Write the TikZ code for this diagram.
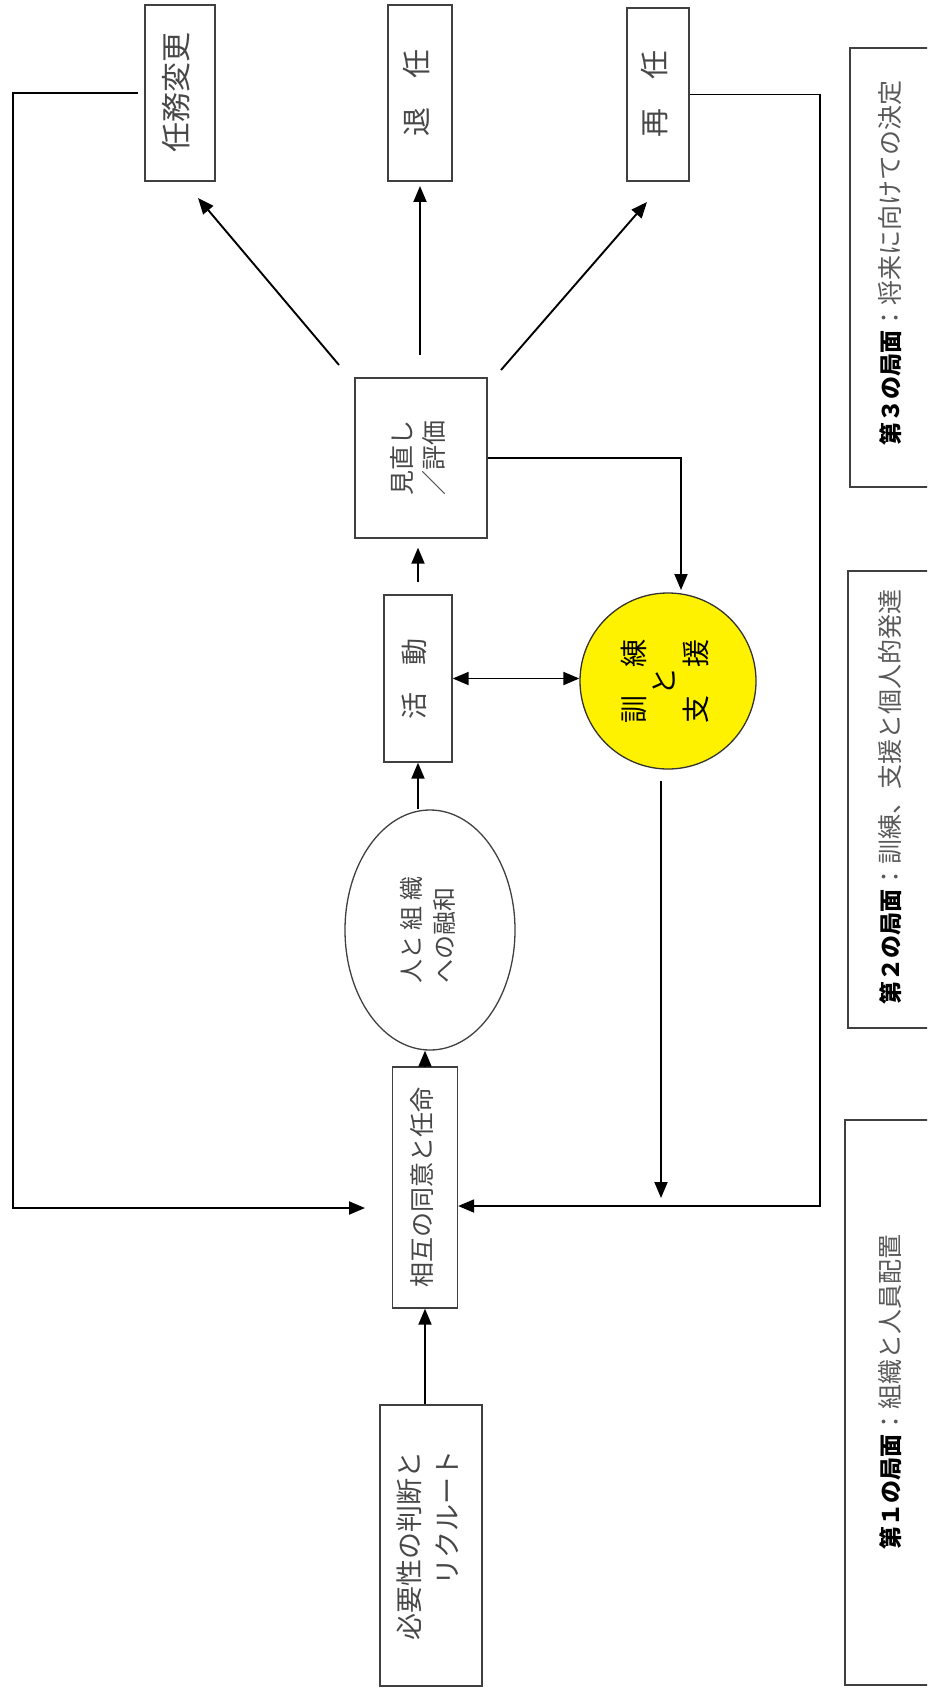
\documentclass[tikz,border=0pt]{standalone}
\usepackage{fontspec}
\usepackage{graphicx}
\usetikzlibrary{arrows.meta,calc,shapes.geometric}
\newfontfamily\jp{Noto Sans CJK JP}
\newcommand{\rtext}[2][c]{\rotatebox{90}{\begin{tabular}{@{}#1@{}}#2\end{tabular}}}
\begin{document}
\begin{tikzpicture}[x=1pt,y=-1pt,
  box/.style={draw=black!75, line width=1.3pt, fill=white, inner sep=0pt, font=\jp, text=black!72},
  arr/.style={-{Triangle[length=16pt,width=13pt]}, line width=1.9pt, black},
  darr/.style={{Triangle[length=16pt,width=13pt]}-{Triangle[length=16pt,width=13pt]}, line width=1.9pt, black},
  lbl/.style={draw=black!75, line width=1.3pt}
]
\clip (0,0) rectangle (927,1688);
\fill[white] (0,0) rectangle (927,1688);

% top boxes
\node[box, minimum width=70pt, minimum height=176pt] (task) at (180,93) {\fontsize{30}{34}\selectfont\rtext{任務変更}};
\node[box, minimum width=64pt, minimum height=176pt] (retire) at (420,93) {\fontsize{29}{34}\selectfont\rtext{退　任}};
\node[box, minimum width=62pt, minimum height=173pt] (reapp) at (658,94.5) {\fontsize{29}{34}\selectfont\rtext{再　任}};

% middle
\node[box, minimum width=132pt, minimum height=160pt] (rev) at (421,458) {\fontsize{25}{32}\selectfont\rtext[l]{見直し\\／評価}};
\node[box, minimum width=68pt, minimum height=167pt] (act) at (418,678.5) {\fontsize{27}{32}\selectfont\rtext{活　動}};
\node[box, draw=black!80, fill=yellow, text=black, circle, minimum size=176pt] (circ) at (668,681) {\fontsize{28}{29}\selectfont\rtext{訓　練\\と\\支　援}};
\node[box, ellipse, minimum width=170pt, minimum height=240pt] (ell) at (430,930) {\fontsize{24}{33}\selectfont\rtext[l]{人と 組 織\\への融和}};
\node[box, minimum width=65pt, minimum height=241pt] (agree) at (425,1187.5) {\fontsize{25}{32}\selectfont\rtext{相互の同意と任命}};
\node[box, minimum width=102pt, minimum height=281pt] (need) at (431,1545.5) {\fontsize{27}{38}\selectfont\rtext[r]{必要性の判断と\\リクルート}};

% phase labels
\draw[lbl] (940,48) -- (850,48) -- (850,487) -- (940,487);
\draw[lbl] (940,571) -- (848,571) -- (848,1028) -- (940,1028);
\draw[lbl] (940,1120) -- (845,1120) -- (845,1685) -- (940,1685);
\node[font=\jp, inner sep=0pt] (l3) at (890,263) {\rotatebox{90}{{\fontsize{23}{26}\selectfont\bfseries 第３の局面}{\fontsize{25}{28}\selectfont\color{black!65}：将来に向けての決定}}};
\node[font=\jp, inner sep=0pt] (l2) at (890,797) {\rotatebox{90}{{\fontsize{23}{26}\selectfont\bfseries 第２の局面}{\fontsize{25}{28}\selectfont\color{black!65}：訓練、支援と個人的発達}}};
\node[font=\jp, inner sep=0pt] (l1) at (890,1392) {\rotatebox{90}{{\fontsize{23}{26}\selectfont\bfseries 第１の局面}{\fontsize{25}{28}\selectfont\color{black!65}：組織と人員配置}}};

% main flow
\draw[arr] (agree.south |- need.north) -- (agree.south);
\draw[arr] (agree.north) -- (agree.north |- ell.south);
\draw[arr] (act.south |- ell.north) -- (act.south);
\draw[arr, shorten <=12pt, shorten >=9pt] (act.north) -- (act.north |- rev.south);
\draw[darr] (act.east) -- (act.east -| circ.west);

% outcomes
\coordinate (a1s) at (339,365); \coordinate (a1e) at (198,198);
\coordinate (a2s) at (420,355); \coordinate (a2e) at (420,186);
\coordinate (a3s) at (501,370); \coordinate (a3e) at (647,202);
\draw[arr] (a1s) -- (a1e);
\draw[arr] (a2s) -- (a2e);
\draw[arr] (a3s) -- (a3e);

% feedback to training
\coordinate (fb) at (681,458);
\coordinate (fbt) at (681,590);
\draw[arr] (rev.east) -- (fb) -- (fbt);

% training down
\coordinate (td1) at (661,781);
\coordinate (td2) at (661,1198);
\draw[arr] (td1) -- (td2);

% right loop
\coordinate (rt) at (820,94.5);
\coordinate (rb) at (820,1206);
\draw[arr, line join=miter] (reapp.east) -- (rt) -- (rb) -- (rb -| agree.east);

% left loop
\coordinate (lt0) at ($(task.west)+(-6,0)$);
\coordinate (lt) at (13,93);
\coordinate (lb) at (13,1208);
\coordinate (lbe) at (365,1208);
\draw[arr, line join=miter] (lt0) -- (lt) -- (lb) -- (lbe);
\end{tikzpicture}
\end{document}
